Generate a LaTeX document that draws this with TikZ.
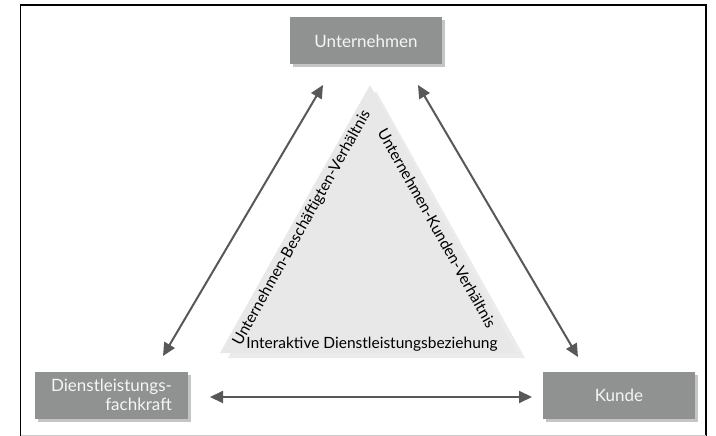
\documentclass[tikz,border=0pt]{standalone}
\usepackage{fontspec}
\setmainfont{Lato}
\usetikzlibrary{shadows,arrows.meta}
\definecolor{boxgray}{HTML}{8F9291}
\definecolor{arrgray}{HTML}{585858}
\definecolor{trigray}{HTML}{E8E8E8}
\tikzset{
  actor/.style={draw=none, fill=boxgray, text=white!92!gray, minimum height=47pt,
    font=\fontsize{17}{19}\selectfont, inner sep=2pt,
    drop shadow={shadow xshift=2.5pt, shadow yshift=-3pt, opacity=0.45}},
  rel/.style={arrgray, line width=2pt, {Triangle[length=13pt,width=12pt]}-{Triangle[length=13pt,width=12pt]}},
  lab/.style={font=\fontsize{15.5}{17}\selectfont, text=black, inner sep=0pt}
}
\begin{document}
\begin{tikzpicture}[x=1pt,y=-1pt]
\useasboundingbox (0,0) rectangle (716,436);
\fill[white] (0,0) rectangle (716,436);
\draw[line width=1.3pt] (20.5,436) -- (20.5,5) -- (706,5) -- (706,436);
\draw[line width=0.4pt, gray!40] (20.5,435.5) -- (706,435.5);
% triangle
\fill[gray!25, opacity=0.6] (376,91) -- (525,358) -- (228,358) -- cycle;
\fill[trigray] (370,85) -- (517,353) -- (220,353) -- cycle;
\coordinate (tl) at (220,353);
\coordinate (tr) at (517,353);
\coordinate (tt) at (370,85);
% labels
\node[lab, rotate=60.8] (lbl1) at (302,228) {Unternehmen-Beschäftigten-Verhältnis};
\node[lab, rotate=-60.8] (lbl2) at (437,228) {Unternehmen-Kunden-Verhältnis};
\node[lab] (lbl3) at (372,344) {Interaktive Dienstleistungsbeziehung};
% boxes
\node[actor, minimum width=152pt, align=center] (u) at (366,41) {Unternehmen};
\node[actor, minimum width=153pt, align=right] (d) at (111.5,395) {Dienstleistungs-\\fachkraft};
\node[actor, minimum width=152pt, align=center] (k) at (619,395) {Kunde};
% arrow end coordinates
\coordinate (a1) at (163,356);
\coordinate (a2) at (323,85);
\coordinate (a3) at (418,85);
\coordinate (a4) at (578,357);
\coordinate (a5) at (210,397);
\coordinate (a6) at (532,397);
\draw[rel] (a1) -- (a2);
\draw[rel] (a3) -- (a4);
\draw[rel] (a5) -- (a6);
\end{tikzpicture}
\end{document}
